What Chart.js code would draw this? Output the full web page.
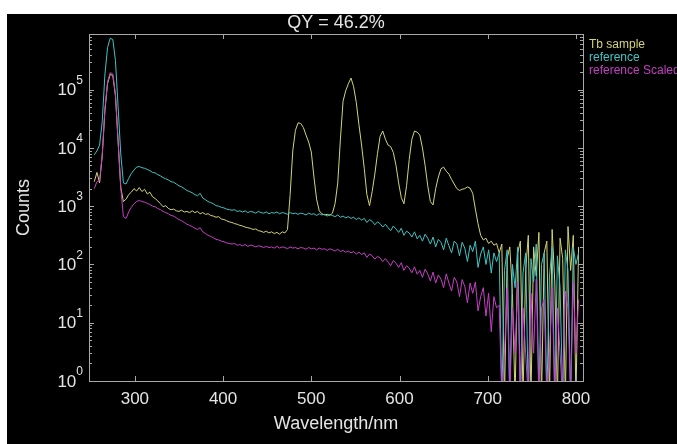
<!DOCTYPE html>
<html>
<head>
<meta charset="utf-8">
<script src="https://cdn.jsdelivr.net/npm/chart.js@4.4.1/dist/chart.umd.min.js"></script>
<style>
  html, body { margin: 0; padding: 0; background: #fff; }
  canvas { display: block; }
</style>
</head>
<body>
<canvas id="qyChart" width="677" height="444"></canvas>
<script>
// wavelength in nm, 3 nm steps
const wavelength = [
  254, 257, 260, 263, 266, 269, 272, 275, 278, 281,
  284, 287, 290, 293, 296, 299, 302, 305, 308, 311,
  314, 317, 320, 323, 326, 329, 332, 335, 338, 341,
  344, 347, 350, 353, 356, 359, 362, 365, 368, 371,
  374, 377, 380, 383, 386, 389, 392, 395, 398, 401,
  404, 407, 410, 413, 416, 419, 422, 425, 428, 431,
  434, 437, 440, 443, 446, 449, 452, 455, 458, 461,
  464, 467, 470, 473, 476, 479, 482, 485, 488, 491,
  494, 497, 500, 503, 506, 509, 512, 515, 518, 521,
  524, 527, 530, 533, 536, 539, 542, 545, 548, 551,
  554, 557, 560, 563, 566, 569, 572, 575, 578, 581,
  584, 587, 590, 593, 596, 599, 602, 605, 608, 611,
  614, 617, 620, 623, 626, 629, 632, 635, 638, 641,
  644, 647, 650, 653, 656, 659, 662, 665, 668, 671,
  674, 677, 680, 683, 686, 689, 692, 695, 698, 701,
  704, 707, 710, 713, 716, 719, 722, 725, 728, 731,
  734, 737, 740, 743, 746, 749, 752, 755, 758, 761,
  764, 767, 770, 773, 776, 779, 782, 785, 788, 791,
  794, 797, 800, 803
];

// counts (0.5 = below the axis floor)
const tbSample = [
  2630, 3800, 2510, 7240, 42700, 126000, 182000, 174000, 77600, 12600,
  2090, 1200, 1320, 1580, 1740, 2000, 1820, 2090, 1780, 1950,
  1620, 1740, 1450, 1350, 1230, 1100, 977, 1020, 912, 871,
  891, 832, 813, 851, 794, 813, 776, 832, 776, 813,
  741, 776, 724, 741, 692, 676, 646, 661, 603, 589,
  562, 537, 525, 501, 490, 468, 457, 437, 427, 417,
  398, 407, 380, 372, 355, 372, 347, 363, 339, 355,
  331, 363, 347, 398, 1580, 8910, 20000, 26900, 26300, 22400,
  16600, 12600, 8510, 3160, 1320, 832, 741, 708, 724, 692,
  759, 1120, 2510, 14100, 63100, 95500, 126000, 158000, 112000, 60300,
  25100, 11200, 4470, 1580, 1020, 1780, 3550, 7940, 15800, 19500,
  14100, 11200, 10500, 8320, 5010, 2510, 1410, 1100, 2240, 6310,
  14100, 19500, 18600, 16600, 10000, 5010, 2240, 1200, 1050, 2000,
  3160, 4370, 4680, 3980, 3550, 2880, 2400, 2000, 1860, 1950,
  2000, 2140, 2040, 1660, 891, 501, 316, 263, 282, 229,
  251, 214, 229, 158, 224, 0.5, 126, 200, 32, 0.5,
  158, 251, 0.5, 79, 316, 0.5, 200, 63, 355, 0.5,
  158, 251, 0.5, 398, 50, 0.5, 282, 126, 0.5, 447,
  79, 316, 0.5, 200
];

const reference = [
  7600, 8900, 11200, 28200, 178000, 525000, 759000, 724000, 316000, 50100,
  7900, 2500, 2400, 3000, 3630, 4170, 4680, 4790, 4570, 4470,
  4270, 4070, 3800, 3720, 3470, 3310, 3090, 2950, 2820, 2630,
  2570, 2400, 2240, 2140, 2000, 1860, 1780, 1700, 1580, 1510,
  1660, 1380, 1290, 1200, 1150, 1100, 1020, 1000, 955, 933,
  891, 871, 851, 871, 813, 832, 794, 832, 776, 813,
  794, 759, 813, 776, 759, 794, 741, 776, 759, 794,
  741, 776, 759, 724, 776, 741, 759, 724, 759, 741,
  708, 759, 724, 741, 692, 741, 708, 724, 676, 724,
  692, 661, 708, 646, 676, 631, 661, 617, 646, 589,
  631, 575, 617, 525, 589, 550, 479, 537, 501, 437,
  490, 427, 380, 457, 407, 355, 417, 316, 372, 347,
  295, 363, 275, 316, 251, 331, 282, 224, 295, 200,
  269, 240, 178, 282, 209, 158, 251, 224, 141, 240,
  191, 112, 214, 166, 251, 89, 151, 200, 100, 178,
  71, 158, 112, 158, 0.5, 79, 178, 0.5, 100, 40,
  200, 0.5, 71, 158, 0.5, 126, 50, 224, 0.5, 100,
  158, 0.5, 63, 200, 0.5, 141, 40, 0.5, 178, 79,
  0.5, 200, 100, 158
];

const referenceScaled = [
  2000, 2630, 2750, 7590, 45700, 135000, 195000, 186000, 83200, 13200,
  2090, 661, 617, 794, 955, 1100, 1200, 1260, 1200, 1170,
  1120, 1070, 1000, 977, 912, 871, 813, 776, 741, 692,
  676, 631, 589, 562, 525, 490, 468, 447, 417, 398,
  427, 363, 339, 316, 302, 288, 269, 263, 251, 245,
  234, 229, 224, 229, 214, 219, 209, 219, 204, 214,
  209, 200, 209, 204, 195, 204, 195, 200, 191, 204,
  191, 200, 195, 186, 200, 191, 195, 186, 195, 191,
  182, 195, 186, 191, 178, 191, 182, 186, 174, 186,
  178, 170, 182, 166, 174, 162, 170, 158, 166, 151,
  162, 148, 158, 132, 151, 141, 123, 138, 129, 112,
  126, 110, 95, 117, 105, 89, 107, 79, 95, 87,
  72, 91, 68, 79, 60, 83, 69, 52, 74, 48,
  66, 56, 40, 69, 48, 35, 60, 50, 28, 55,
  42, 22, 48, 32, 50, 16, 28, 40, 13, 32,
  7, 28, 18, 20, 0.5, 3, 40, 0.5, 18, 3,
  50, 0.5, 18, 3, 0.5, 32, 3, 56, 0.5, 18,
  25, 0.5, 3, 40, 0.5, 18, 3, 0.5, 35, 18,
  0.5, 50, 3, 25
];

const seriesNames = ['Tb sample', 'reference', 'reference Scaled'];
const xTicks = [300, 400, 500, 600, 700, 800];
const yDecades = [0, 1, 2, 3, 4, 5];
const titleText = 'QY = 46.2%';
const xTitle = 'Wavelength/nm';
const yTitle = 'Counts';

const FONT = '"Liberation Sans", Arial, Helvetica, sans-serif';

function toPoints(values) {
  return wavelength.map((x, i) => ({ x: x, y: values[i] }));
}

const axisFrame = {
  id: 'axisFrame',
  beforeDraw(chart) {
    const c = chart.ctx;
    c.save();
    c.fillStyle = '#ffffff';
    c.fillRect(0, 0, chart.width, chart.height);
    c.fillStyle = '#000000';
    c.fillRect(7, 14, chart.width - 7, chart.height - 14);
    c.restore();
  },
  afterDraw(chart) {
    const c = chart.ctx;
    const a = chart.chartArea;
    const xs = chart.scales.x;
    const ys = chart.scales.y;
    c.save();

    // box + inward ticks
    c.strokeStyle = '#a8a8a8';
    c.lineWidth = 1;
    c.strokeRect(Math.round(a.left) + 0.5, Math.round(a.top) + 0.5,
      Math.round(a.right - a.left), Math.round(a.bottom - a.top));
    c.beginPath();
    xTicks.forEach(v => {
      const px = Math.round(xs.getPixelForValue(v)) + 0.5;
      c.moveTo(px, a.bottom); c.lineTo(px, a.bottom - 5);
      c.moveTo(px, a.top); c.lineTo(px, a.top + 5);
    });
    yDecades.forEach(n => {
      for (let k = 1; k <= 9; k++) {
        const v = k * Math.pow(10, n);
        if (v > ys.max) break;
        const py = Math.round(ys.getPixelForValue(v)) + 0.5;
        const len = k === 1 ? 5 : 3;
        c.moveTo(a.left, py); c.lineTo(a.left + len, py);
        c.moveTo(a.right, py); c.lineTo(a.right - len, py);
      }
    });
    c.stroke();

    // tick labels
    c.fillStyle = '#e4e4e4';
    c.font = '17px ' + FONT;
    c.textAlign = 'center';
    c.textBaseline = 'middle';
    xTicks.forEach(v => c.fillText(String(v), xs.getPixelForValue(v), a.bottom + 18));

    c.textAlign = 'right';
    yDecades.forEach(n => {
      const py = ys.getPixelForValue(Math.pow(10, n));
      c.font = '12px ' + FONT;
      const ew = c.measureText(String(n)).width;
      c.fillText(String(n), a.left - 6, py - 9);
      c.font = '17px ' + FONT;
      c.fillText('10', a.left - 6 - ew, py + 1);
    });

    // titles
    c.textAlign = 'center';
    c.font = '18px ' + FONT;
    c.fillText(titleText, (a.left + a.right) / 2, 23);
    c.fillText(xTitle, (a.left + a.right) / 2, a.bottom + 43);
    c.save();
    c.translate(24, (a.top + a.bottom) / 2);
    c.rotate(-Math.PI / 2);
    c.fillText(yTitle, 0, 0);
    c.restore();

    // legend
    c.textAlign = 'left';
    c.font = '12px ' + FONT;
    chart.data.datasets.forEach((ds, i) => {
      c.fillStyle = ds.borderColor;
      c.fillText(ds.label, a.right + 6, a.top + 11 + i * 13);
    });
    c.restore();
  }
};

new Chart(document.getElementById('qyChart'), {
  type: 'line',
  data: {
    datasets: [
      { label: seriesNames[0], data: toPoints(tbSample), borderColor: '#d4d474', order: 2 },
      { label: seriesNames[1], data: toPoints(reference), borderColor: '#3fc4c4', order: 1 },
      { label: seriesNames[2], data: toPoints(referenceScaled), borderColor: '#c63fc6', order: 0 }
    ]
  },
  options: {
    responsive: false,
    animation: false,
    layout: { padding: { left: 89, top: 34, right: 94, bottom: 63 } },
    elements: {
      point: { radius: 0 },
      line: { borderWidth: 1, tension: 0 }
    },
    plugins: {
      legend: { display: false },
      tooltip: { enabled: false },
      title: { display: false }
    },
    scales: {
      x: { type: 'linear', min: 248, max: 808, display: false },
      y: { type: 'logarithmic', min: 1, max: 900000, display: false }
    }
  },
  plugins: [axisFrame]
});
</script>
</body>
</html>
